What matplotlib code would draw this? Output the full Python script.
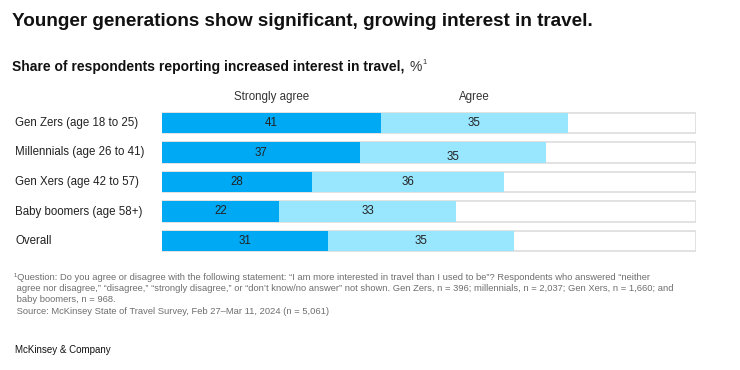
import matplotlib
matplotlib.use("Agg")
from matplotlib import pyplot as plt

plt.rcParams['font.family'] = ['Liberation Sans', 'DejaVu Sans']

# data
categories = ["Gen Zers (age 18 to 25)", "Millennials (age 26 to 41)",
              "Gen Xers (age 42 to 57)", "Baby boomers (age 58+)", "Overall"]
strongly_agree = [41, 37, 28, 22, 31]
agree = [35, 35, 36, 33, 35]
series_names = ["Strongly agree", "Agree"]

dark_blue = "#00A9F4"
light_blue = "#99E6FF"

W, H = 740, 370
fig = plt.figure(figsize=(W / 100, H / 100), dpi=100)

def fy(py):
    # pixel row (from top) -> figure fraction
    return 1 - py / H

# axes placed in pixel coordinates (top-left origin)
left, right = 162, 696
top, bottom = 108.25, 255.75
ax = fig.add_axes([left / W, 1 - bottom / H, (right - left) / W, (bottom - top) / H])

y = list(range(len(categories)))
bh = 0.71
ax.barh(y, [100] * len(y), height=bh, color="white", edgecolor="#DDDDDD", linewidth=1.2, zorder=1)
ax.barh(y, strongly_agree, height=bh, color=dark_blue, zorder=2)
ax.barh(y, agree, left=strongly_agree, height=bh, color=light_blue, zorder=2)

for i, (s, a) in enumerate(zip(strongly_agree, agree)):
    ax.text(s / 2, i, str(s), ha="center", va="center", fontsize=8.3, color="#222222", zorder=3)
    dy = 0.15 if i == 1 else 0  # label sits slightly low in the original
    ax.text(s + a / 2, i + dy, str(a), ha="center", va="center", fontsize=8.3, color="#222222", zorder=3)

ax.set_xlim(0, 100)
ax.set_ylim(len(categories) - 0.5, -0.5)
ax.axis("off")

for i, c in enumerate(categories):
    fig.text(15 / W, fy(123 + i * 29.5), c, ha="left", va="center", fontsize=8.3, color="#222222")

# legend labels over the first bar segments
fig.text((left + strongly_agree[0] / 2 * (right - left) / 100) / W, fy(97), series_names[0],
         ha="center", va="center", fontsize=8.3, color="#333333")
fig.text((left + (strongly_agree[0] + agree[0] / 2) * (right - left) / 100) / W, fy(97), series_names[1],
         ha="center", va="center", fontsize=8.3, color="#333333")

fig.text(12 / W, fy(22), "Younger generations show significant, growing interest in travel.",
         ha="left", va="center", fontsize=13.6, fontweight="bold", color="#111111")
sub = fig.text(12 / W, fy(67), "Share of respondents reporting increased interest in travel,",
               ha="left", va="center", fontsize=10, fontweight="bold", color="#111111")
fig.canvas.draw()
bb = sub.get_window_extent()
pct = fig.text((bb.x1 + 5) / W, fy(67), "%", ha="left", va="center", fontsize=10, color="#333333")
fig.canvas.draw()
pb = pct.get_window_extent()
fig.text((pb.x1 + 1) / W, fy(63), "1", ha="left", va="center", fontsize=5.5, color="#333333")

foot = ["\u00b9Question: Do you agree or disagree with the following statement: \u201cI am more interested in travel than I used to be\u201d? Respondents who answered \u201cneither",
        " agree nor disagree,\u201d \u201cdisagree,\u201d \u201cstrongly disagree,\u201d or \u201cdon\u2019t know/no answer\u201d not shown. Gen Zers, n = 396; millennials, n = 2,037; Gen Xers, n = 1,660; and",
        " baby boomers, n = 968.",
        " Source: McKinsey State of Travel Survey, Feb 27\u2013Mar 11, 2024 (n = 5,061)"]
for k, line in enumerate(foot):
    fig.text(14 / W, fy(277 + k * 11.5), line, ha="left", va="center", fontsize=6.75, color="#6E6E6E")

fig.text(15 / W, fy(350), "McKinsey & Company", ha="left", va="center", fontsize=7, color="#111111")

fig.savefig("out.png", dpi=100)
